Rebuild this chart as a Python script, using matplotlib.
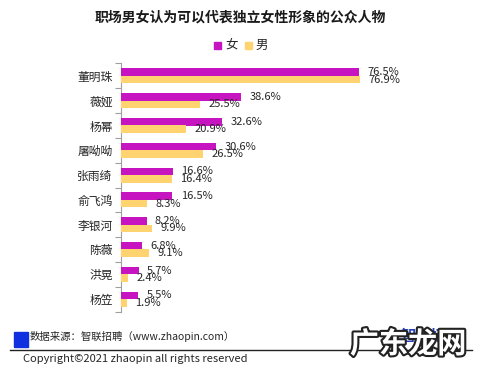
import matplotlib
matplotlib.use("Agg")
import matplotlib.pyplot as plt
import matplotlib.patheffects as pe
from matplotlib.patches import Rectangle
from matplotlib.lines import Line2D
import numpy as np

plt.rcParams["font.family"] = ["Noto Sans CJK SC", "DejaVu Sans"]

names = ["董明珠", "薇娅", "杨幂", "屠呦呦", "张雨绮", "俞飞鸿", "李银河", "陈薇", "洪晃", "杨笠"]
female = [76.5, 38.6, 32.6, 30.6, 16.6, 16.5, 8.2, 6.8, 5.7, 5.5]
male = [76.9, 25.5, 20.9, 26.5, 16.4, 8.3, 9.9, 9.1, 2.4, 1.9]

PINK = "#c615c0"
GOLD = "#ffd470"
INK = "#262626"

W, H = 480, 377
fig = plt.figure(figsize=(W / 100, H / 100), dpi=100)
fig.patch.set_facecolor("white")


def fx(px):
    return px / W


def fy(py):
    return 1 - py / H


ax = fig.add_axes([fx(121), fy(311.5), fx(432) - fx(121), fy(63.5) - fy(311.5)])
y = np.arange(len(names))
h = 0.30
ax.barh(y - h / 2, female, height=h, color=PINK, zorder=3)
ax.barh(y + h / 2, male, height=h, color=GOLD, zorder=3)
ax.set_xlim(0, 100)
ax.set_ylim(len(names) - 0.5, -0.5)

for i, (f, m) in enumerate(zip(female, male)):
    ax.annotate(f"{f:.1f}%", (f, i - h / 2), xytext=(6, 0), textcoords="offset points",
                ha="left", va="center", fontsize=8, color=INK)
    ax.annotate(f"{m:.1f}%", (m, i + h / 2), xytext=(6, 0), textcoords="offset points",
                ha="left", va="center", fontsize=8, color=INK)

ax.set_yticks(y)
ax.set_yticklabels(names, fontsize=8.5, color=INK)
ax.tick_params(axis="y", which="major", length=0, pad=6)
ax.set_yticks(np.arange(-0.5, len(names) + 0.5, 1), minor=True)
ax.tick_params(axis="y", which="minor", length=4, color="#a0a0a0", width=0.8)
ax.set_xticks([])
for s in ["top", "right", "bottom"]:
    ax.spines[s].set_visible(False)
ax.spines["left"].set_color("#a0a0a0")
ax.spines["left"].set_linewidth(0.8)

# title and legend
fig.text(fx(240), fy(18), "职场男女认为可以代表独立女性形象的公众人物", ha="center", va="center",
         fontsize=10, fontweight="bold", color="#1a1a1a")
fig.patches.append(Rectangle((fx(214), fy(49)), fx(7), 7 / H, color=PINK, transform=fig.transFigure))
fig.text(fx(225), fy(45), "女", ha="left", va="center", fontsize=9, color=INK)
fig.patches.append(Rectangle((fx(245), fy(49)), fx(7), 7 / H, color=GOLD, transform=fig.transFigure))
fig.text(fx(255), fy(45), "男", ha="left", va="center", fontsize=9, color=INK)

# footer
fig.patches.append(Rectangle((fx(14), fy(347)), fx(14), 15 / H, color="#1030e0", transform=fig.transFigure))
fig.text(fx(30), fy(336), "数据来源：智联招聘（www.zhaopin.com）", ha="left", va="center",
         fontsize=7.5, color=INK)
fig.lines.append(Line2D([fx(10), fx(472)], [fy(350), fy(350)], color="#222222", lw=1,
                        transform=fig.transFigure))
fig.text(fx(23), fy(359), "Copyright©2021 zhaopin all rights reserved", ha="left", va="center",
         fontsize=8, color=INK)
fig.text(fx(462), fy(336), "智联招聘", ha="right", va="center", fontsize=11,
         fontweight="bold", color="#2540b8")
fig.text(fx(408), fy(344), "广东龙网", ha="center", va="center", fontsize=21,
         fontweight="bold", color="white",
         path_effects=[pe.withStroke(linewidth=3, foreground="#222222")])

fig.savefig("out.png", dpi=100, facecolor="white")
